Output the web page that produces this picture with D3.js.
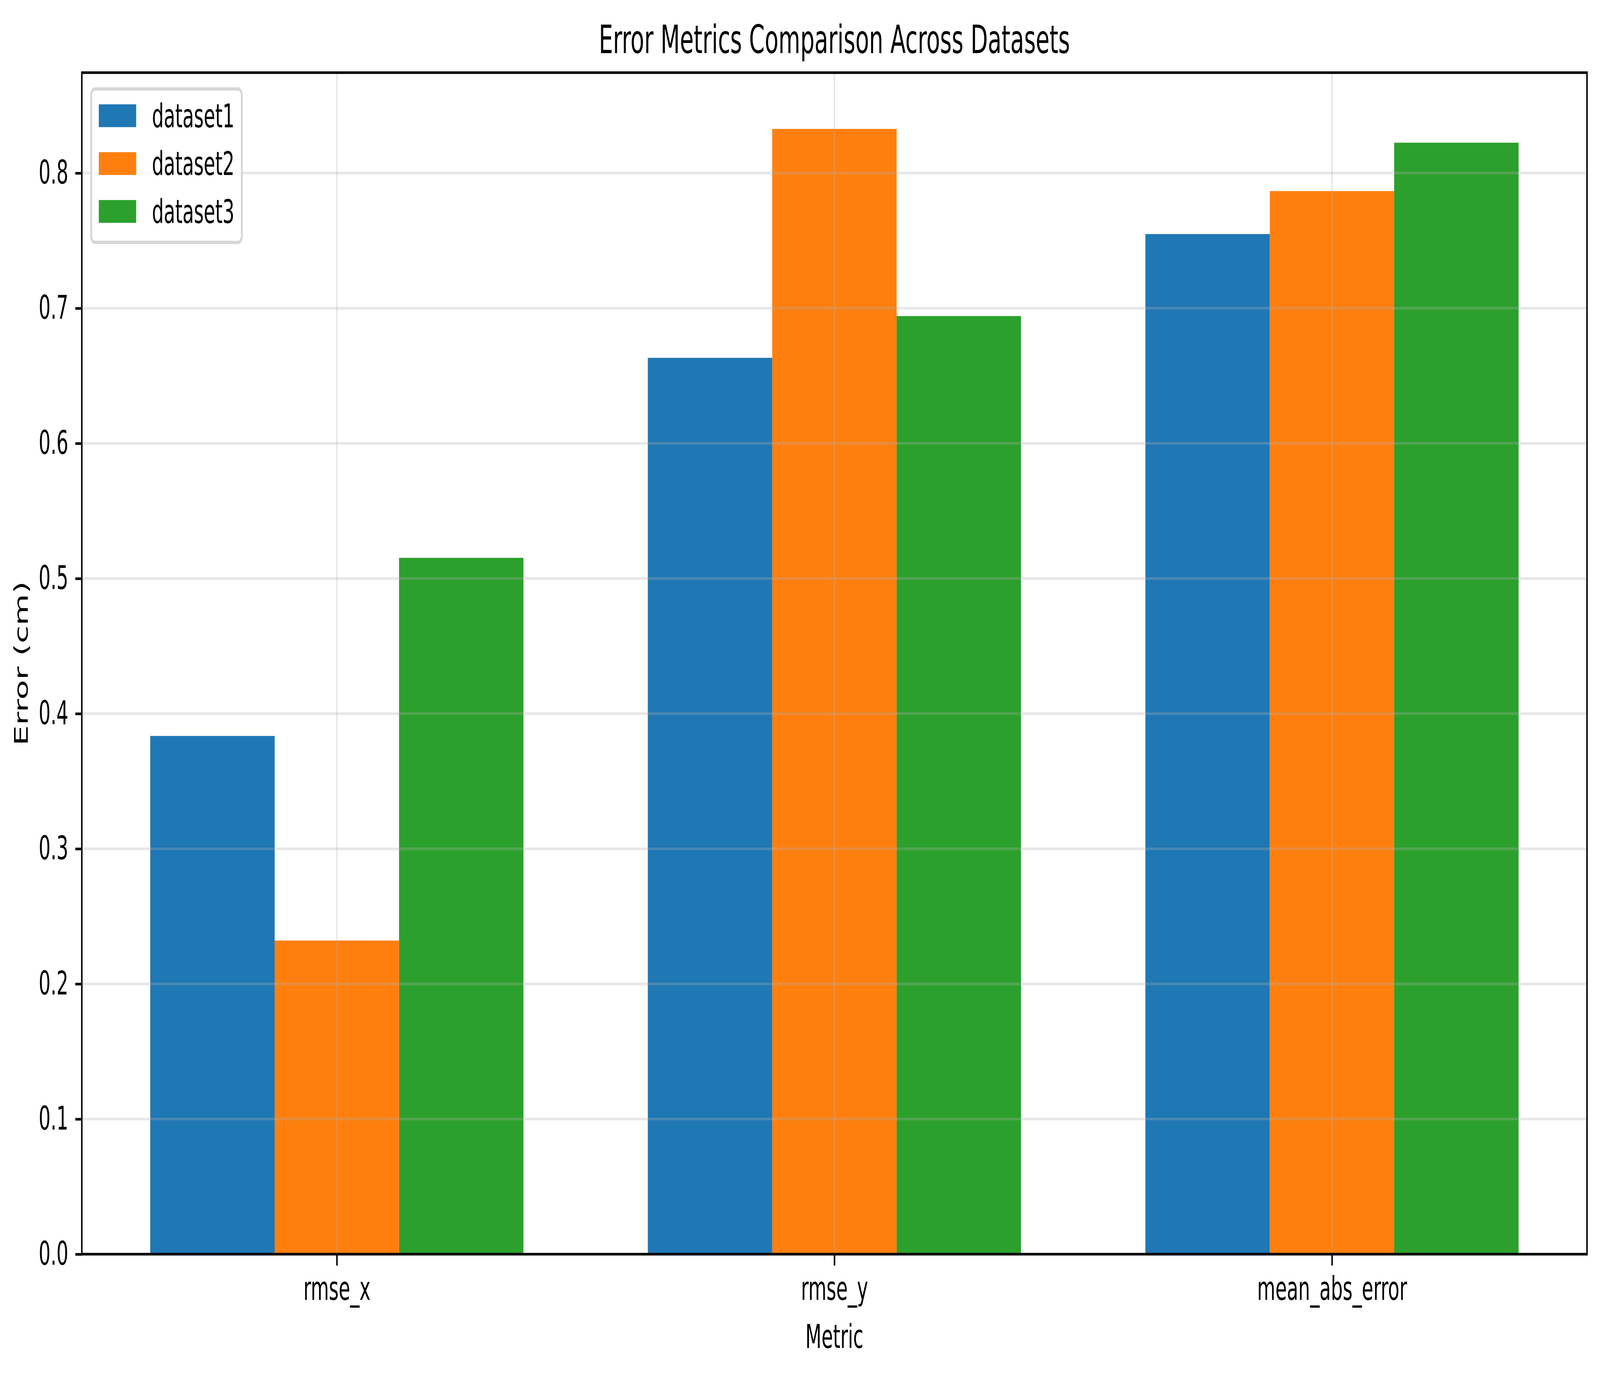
<!DOCTYPE html>
<html>
<head>
<meta charset="utf-8">
<script src="https://cdn.jsdelivr.net/npm/d3@7"></script>
<style>
  html, body { margin: 0; padding: 0; background: #ffffff; overflow: hidden; }
  #chart { display: block; width: 100vw; height: 100vh; }
  svg text { font-family: "DejaVu Sans", sans-serif; fill: #000; }
</style>
</head>
<body>
<svg id="chart"></svg>
<script>
// values
var categories = ["rmse_x", "rmse_y", "mean_abs_error"];
var seriesNames = ["dataset1", "dataset2", "dataset3"];
var dataset1 = [0.3835, 0.6633, 0.7549];
var dataset2 = [0.2321, 0.8327, 0.7867];
var dataset3 = [0.5153, 0.6942, 0.8225];
var colors = ["#1f77b4", "#ff7f0e", "#2ca02c"];
var yTicks = [0, 0.1, 0.2, 0.3, 0.4, 0.5, 0.6, 0.7, 0.8];

var series = [dataset1, dataset2, dataset3];

var width = 7137, height = 3528;
var margin = {top: 186, right: 58, bottom: 317, left: 365};
var lw = 6.67;          // 0.8pt at 600 dpi
var fs = 83.33;         // 10pt
var barWidth = 0.25;

// figure drawn in 7137x3528 units and stretched to fill the whole window
var svg = d3.select("#chart")
    .attr("viewBox", "0 0 " + width + " " + height)
    .attr("preserveAspectRatio", "none");

svg.append("rect")
    .attr("width", width)
    .attr("height", height)
    .attr("fill", "#ffffff");

// x domain like matplotlib: bar extent plus 5% margins
var lo = -1.5 * barWidth;
var hi = (categories.length - 1) + 1.5 * barWidth;
var pad = 0.05 * (hi - lo);

var x = d3.scaleLinear()
    .domain([lo - pad, hi + pad])
    .range([margin.left, width - margin.right]);

var allValues = d3.merge(series);
var y = d3.scaleLinear()
    .domain([0, d3.max(allValues) * 1.05])
    .range([height - margin.bottom, margin.top]);

// Bars
series.forEach(function(values, s) {
    svg.append("g")
        .selectAll("rect")
        .data(values)
        .enter()
        .append("rect")
        .attr("x", function(d, i) { return x(i + (s - 1) * barWidth - barWidth / 2); })
        .attr("width", x(barWidth) - x(0))
        .attr("y", function(d) { return y(d); })
        .attr("height", function(d) { return y(0) - y(d); })
        .attr("fill", colors[s]);
});

// Grid (drawn over the bars, alpha 0.3)
var grid = svg.append("g")
    .attr("stroke", "#b0b0b0")
    .attr("stroke-opacity", 0.3)
    .attr("stroke-width", lw);

grid.selectAll("line.h")
    .data(yTicks)
    .enter()
    .append("line")
    .attr("x1", margin.left)
    .attr("x2", width - margin.right)
    .attr("y1", function(d) { return y(d); })
    .attr("y2", function(d) { return y(d); });

grid.selectAll("line.v")
    .data(d3.range(categories.length))
    .enter()
    .append("line")
    .attr("x1", function(d) { return x(d); })
    .attr("x2", function(d) { return x(d); })
    .attr("y1", margin.top)
    .attr("y2", height - margin.bottom);

// Axes
var xAxis = d3.axisBottom(x)
    .tickValues(d3.range(categories.length))
    .tickFormat(function(i) { return categories[i]; })
    .tickSize(29)
    .tickPadding(29);

var yAxis = d3.axisLeft(y)
    .tickValues(yTicks)
    .tickFormat(d3.format(".1f"))
    .tickSize(29)
    .tickPadding(31);

function styleAxis(g) {
    g.select(".domain").remove();
    g.attr("font-size", null).attr("font-family", null);
    g.selectAll(".tick line").attr("stroke", "#000").attr("stroke-width", lw);
    g.selectAll(".tick text").style("font-size", fs + "px");
}

svg.append("g")
    .attr("transform", "translate(0," + (height - margin.bottom) + ")")
    .call(xAxis)
    .call(styleAxis);

svg.append("g")
    .attr("transform", "translate(" + margin.left + ",0)")
    .call(yAxis)
    .call(styleAxis);

// Frame (spines)
svg.append("rect")
    .attr("x", margin.left)
    .attr("y", margin.top)
    .attr("width", width - margin.left - margin.right)
    .attr("height", height - margin.top - margin.bottom)
    .attr("fill", "none")
    .attr("stroke", "#000")
    .attr("stroke-width", lw)
    .attr("stroke-linejoin", "miter");

// Title and labels
var cx = (margin.left + width - margin.right) / 2;
var cy = (margin.top + height - margin.bottom) / 2;

svg.append("text")
    .attr("x", cx)
    .attr("y", 136)
    .attr("text-anchor", "middle")
    .style("font-size", "100px")
    .text("Error Metrics Comparison Across Datasets");

svg.append("text")
    .attr("x", cx)
    .attr("y", 3451)
    .attr("text-anchor", "middle")
    .style("font-size", fs + "px")
    .text("Metric");

svg.append("text")
    .attr("transform", "translate(123," + cy + ") rotate(-90)")
    .attr("text-anchor", "middle")
    .style("font-size", fs + "px")
    .text("Error (cm)");

// Legend (upper left)
var legend = svg.append("g")
    .attr("transform", "translate(" + (margin.left + fs * 0.5) + "," + (margin.top + fs * 0.5) + ")");

legend.append("rect")
    .attr("x", 0)
    .attr("y", 0)
    .attr("width", 672)
    .attr("height", 393)
    .attr("rx", 17)
    .attr("ry", 17)
    .attr("fill", "#ffffff")
    .attr("fill-opacity", 0.8)
    .attr("stroke", "#d6d6d6")
    .attr("stroke-width", 8.33);

var rows = legend.selectAll("g.row")
    .data(seriesNames)
    .enter()
    .append("g")
    .attr("transform", function(d, i) { return "translate(0," + (39.5 + i * 122.5) + ")"; });

rows.append("rect")
    .attr("x", 34)
    .attr("y", 0)
    .attr("width", fs * 2)
    .attr("height", fs * 0.7)
    .attr("fill", function(d, i) { return colors[i]; });

rows.append("text")
    .attr("x", 271)
    .attr("y", fs * 0.7)
    .style("font-size", fs + "px")
    .text(function(d) { return d; });
</script>
</body>
</html>
